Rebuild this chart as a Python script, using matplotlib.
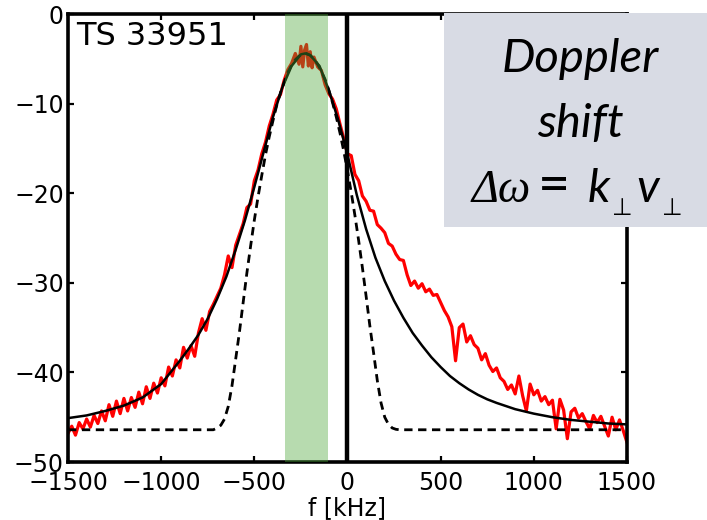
import numpy as np
import matplotlib.pyplot as plt
from matplotlib.patches import Rectangle

# measured spectrum (red)
f_meas = [-1500, -1480, -1460, -1440, -1420, -1400, -1380, -1360, -1340, -1320,
          -1300, -1280, -1260, -1240, -1220, -1200, -1180, -1160, -1140, -1120,
          -1100, -1080, -1060, -1040, -1020, -1000, -980, -960, -940, -920,
          -900, -880, -860, -840, -820, -800, -780, -760, -740, -720,
          -700, -680, -660, -640, -620, -600, -580, -560, -540, -520,
          -500, -480, -460, -440, -420, -400, -380, -360, -340, -320,
          -300, -280, -260, -250, -240, -230, -220, -210, -200, -190,
          -180, -160, -140, -120, -100, -80, -60, -40, -20, 0,
          20, 40, 60, 80, 100, 120, 140, 160, 180, 200,
          220, 240, 260, 280, 300, 320, 340, 360, 380, 400,
          420, 440, 460, 480, 500, 520, 540, 560, 580, 600,
          620, 640, 660, 680, 700, 720, 740, 760, 780, 800,
          820, 840, 860, 880, 900, 920, 940, 960, 980, 1000,
          1020, 1040, 1060, 1080, 1100, 1120, 1140, 1160, 1180, 1200,
          1220, 1240, 1260, 1280, 1300, 1320, 1340, 1360, 1380, 1400,
          1420, 1440, 1460, 1480, 1500]
p_meas = [-46.8, -46.0, -47.0, -45.6, -46.3, -45.2, -46.1, -44.8, -45.7, -44.3,
          -45.4, -43.6, -44.9, -43.2, -44.6, -42.9, -44.3, -42.8, -43.9, -42.2,
          -43.5, -41.6, -42.9, -41.2, -42.3, -40.6, -41.5, -39.4, -40.4, -38.6,
          -39.5, -37.2, -38.4, -37.0, -38.2, -35.6, -34.0, -35.3, -33.2, -32.4,
          -31.5, -30.6, -29.1, -27.0, -28.3, -25.8, -24.6, -23.4, -21.6, -21.2,
          -18.6, -17.4, -15.6, -14.3, -12.5, -11.2, -9.6, -9.0, -7.4, -6.2,
          -5.5, -4.4, -5.6, -3.6, -5.9, -4.0, -3.4, -5.8, -4.2, -6.0,
          -4.8, -5.9, -6.3, -7.9, -8.9, -9.5, -10.6, -12.3, -13.9, -15.6,
          -15.8, -17.9, -18.6, -20.3, -20.9, -21.9, -22.0, -23.5, -23.9, -24.4,
          -25.6, -25.9, -26.8, -27.4, -27.5, -29.1, -30.3, -29.8, -30.6, -30.1,
          -31.0, -30.7, -31.4, -31.3, -32.2, -33.1, -33.8, -34.9, -38.7, -35.0,
          -34.6, -36.6, -35.9, -36.9, -37.3, -38.6, -37.9, -39.2, -39.9, -39.5,
          -40.6, -41.0, -41.9, -41.4, -42.4, -40.4, -42.6, -44.3, -41.3, -42.5,
          -42.0, -43.2, -42.7, -43.6, -43.1, -46.3, -43.0, -44.2, -47.4, -44.4,
          -44.0, -45.1, -44.6, -45.5, -46.3, -44.8, -45.6, -44.9, -46.0, -47.1,
          -45.0, -46.4, -45.3, -46.5, -47.8]

# fit (solid black)
f_fit = [-1500, -1400, -1300, -1200, -1100, -1000, -950, -900, -850, -800,
         -750, -700, -650, -600, -550, -500, -450, -400, -350, -300,
         -250, -228, -200, -150, -100, -50, 0, 50, 100, 150,
         200, 250, 300, 350, 400, 450, 500, 550, 600, 650,
         700, 750, 800, 900, 1000, 1100, 1200, 1300, 1400, 1500]
p_fit = [-45.1, -44.8, -44.3, -43.7, -42.8, -41.3, -40.0, -38.7, -37.3, -35.8,
         -34.0, -31.8, -29.3, -26.3, -23.0, -19.3, -15.4, -11.5, -8.2, -5.8,
         -4.5, -4.4, -4.6, -5.8, -8.5, -11.8, -15.7, -20.2, -24.0, -27.2,
         -29.8, -32.0, -33.9, -35.6, -37.0, -38.3, -39.4, -40.4, -41.2, -41.9,
         -42.5, -43.0, -43.4, -44.1, -44.6, -45.0, -45.3, -45.5, -45.7, -45.8]

# gaussian (dashed)
f_gauss = [-1500, -720, -700, -680, -660, -640, -620, -600, -580, -560,
           -540, -520, -500, -480, -460, -440, -420, -400, -380, -360,
           -340, -320, -300, -280, -260, -240, -220, -200, -180, -160,
           -140, -120, -100, -80, -60, -40, -20, 0, 20, 40,
           60, 80, 100, 120, 140, 160, 180, 200, 220, 240,
           260, 280, 1500]
p_gauss = [-46.4, -46.4, -46.2, -45.9, -45.2, -43.8, -41.5, -38.5, -35.5, -32.2,
           -28.9, -25.9, -23.0, -20.4, -18.0, -15.7, -13.7, -11.9, -10.2, -8.8,
           -7.6, -6.5, -5.7, -5.1, -4.7, -4.4, -4.4, -4.6, -5.0, -5.6,
           -6.4, -7.3, -8.5, -9.9, -11.5, -13.3, -15.3, -17.5, -19.9, -22.5,
           -25.3, -28.3, -31.5, -34.8, -37.8, -40.9, -43.4, -45.0, -45.8, -46.2,
           -46.35, -46.4, -46.4]

band = (-335, -105)
f_zero = -5

fig = plt.figure(figsize=(7.07, 5.2), dpi=100)
ax = fig.add_axes([0.0962, 0.1115, 0.7906, 0.8615])

ax.plot(f_meas, p_meas, color='#ff0000', lw=2.3, zorder=2)
ax.plot(f_fit, p_fit, color='black', lw=1.8, zorder=3)
ax.plot(f_gauss, p_gauss, color='black', lw=2.0, ls=(0, (3.0, 2.0)), zorder=3)
ax.axvspan(band[0], band[1], color='#4da739', alpha=0.4, lw=0, zorder=4)
ax.axvline(f_zero, color='black', lw=3.2, zorder=5)

ax.set_xlim(-1500, 1500)
ax.set_ylim(-50, 0)
ax.set_xticks(np.arange(-1500, 1501, 500))
ax.set_yticks(np.arange(-50, 1, 10))
ax.tick_params(direction='in', length=4, width=1.6, labelsize=17,
               top=True, right=True)
ax.tick_params(axis='x', pad=6.5)
ax.tick_params(axis='y', pad=3)
for s in ax.spines.values():
    s.set_linewidth(2.6)
ax.set_xlabel('f [kHz]', fontsize=17, labelpad=1)

ax.text(0.015, 0.985, 'TS 33951', transform=ax.transAxes, fontsize=23,
        ha='left', va='top')

# annotation box on top of the axes frame
fig.patches.append(Rectangle((444 / 707, 1 - 227 / 520), 263 / 707, 214 / 520,
                             transform=fig.transFigure, facecolor='#d8dbe4',
                             edgecolor='none', zorder=5))
fx = lambda px: px / 707
fy = lambda py: 1 - py / 520
fig.text(fx(580), fy(72), 'Doppler', fontsize=34, family='Lato', style='italic',
         ha='center', va='baseline', zorder=6)
fig.text(fx(580), fy(137), 'shift', fontsize=34, family='Lato', style='italic',
         ha='center', va='baseline', zorder=6)
fig.text(fx(472), fy(202), 'Δω', fontsize=33, family='Liberation Serif', style='italic',
         ha='left', va='baseline', zorder=6)
fig.text(fx(538), fy(202), '=', fontsize=40, family='Lato',
         ha='left', va='baseline', zorder=6)
fig.text(fx(588), fy(202), 'k', fontsize=34, family='Lato', style='italic',
         ha='left', va='baseline', zorder=6)
fig.text(fx(612), fy(215), '⊥', fontsize=17, family='DejaVu Sans',
         ha='left', va='baseline', zorder=6)
fig.text(fx(636), fy(202), 'v', fontsize=34, family='Lato', style='italic',
         ha='left', va='baseline', zorder=6)
fig.text(fx(662), fy(215), '⊥', fontsize=17, family='DejaVu Sans',
         ha='left', va='baseline', zorder=6)

fig.savefig('out.png', dpi=100)
